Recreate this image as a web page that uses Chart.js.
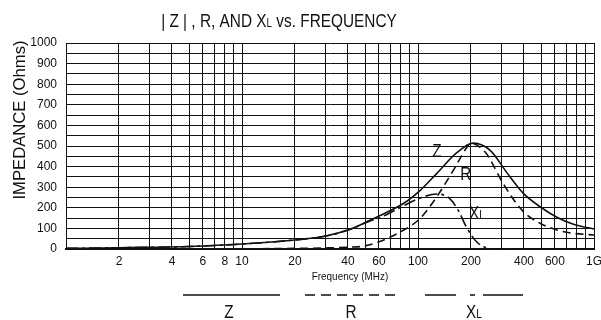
<!DOCTYPE html>
<html>
<head>
<meta charset="utf-8">
<script src="https://cdn.jsdelivr.net/npm/chart.js@4.4.1/dist/chart.umd.min.js"></script>
<style>
  html, body { margin: 0; padding: 0; background: #fff; }
</style>
</head>
<body>
<canvas id="chart" width="601" height="320"></canvas>
<script>
// frequency in MHz, impedance in ohms
const zFreq = [1, 2, 3, 5, 10, 20, 30, 41, 53, 60, 83, 103, 128, 165, 206, 258, 319, 397, 494, 615, 764, 1000];
const zVals = [3, 6, 8, 12, 24, 44, 63, 96, 138, 160, 222, 285, 367, 465, 514, 478, 372, 270, 205, 154, 120, 97];

const rFreq = [1, 10, 20, 30, 41, 50, 60, 83, 103, 128, 159, 188, 200, 244, 255, 304, 397, 494, 615, 764, 1000];
const rVals = [0, 1, 3, 5, 9, 15, 35, 92, 149, 254, 383, 489, 513, 465, 440, 319, 181, 125, 92, 76, 68];

const xlFreq = [1, 2, 3, 5, 10, 20, 30, 41, 53, 60, 83, 103, 128, 151, 169, 188, 215, 240, 270, 1000];
const xlVals = [3, 6, 8, 12, 24, 44, 63, 95, 135, 150, 210, 248, 267, 246, 189, 108, 35, 8, 0, 0];

const xGrid = [1, 2, 3, 4, 5, 6, 7, 8, 9, 10, 20, 30, 40, 50, 60, 70, 80, 90, 100,
  200, 300, 400, 500, 600, 700, 800, 900, 1000];
const xLabeled = [2, 4, 6, 8, 10, 20, 40, 60, 100, 200, 400, 600, 1000];
const xLabelText = ["2", "4", "6", "8", "10", "20", "40", "60", "100", "200", "400", "600", "1G"];

const ink = "#111";
const FONT = '"Liberation Sans", Arial, sans-serif';

function pts(fs, vs) {
  return fs.map((f, i) => ({ x: f, y: vs[i] }));
}

// text runs (small "L" subscript sits on the baseline), squeezed by k to look condensed
function drawRich(ctx, parts, cx, baseline, k = 0.85) {
  let w = 0;
  parts.forEach(([t, size]) => {
    ctx.font = `${size}px ${FONT}`;
    w += ctx.measureText(t).width;
  });
  ctx.save();
  ctx.translate(cx - (w * k) / 2, baseline);
  ctx.scale(k, 1);
  ctx.textAlign = "left";
  ctx.textBaseline = "alphabetic";
  let x = 0;
  parts.forEach(([t, size]) => {
    ctx.font = `${size}px ${FONT}`;
    ctx.fillText(t, x, 0);
    x += ctx.measureText(t).width;
  });
  ctx.restore();
}

const textPlugin = {
  id: "texts",
  afterDraw(chart) {
    const { ctx, scales } = chart;
    const sx = scales.x, sy = scales.y;
    ctx.save();
    ctx.fillStyle = ink;
    ctx.strokeStyle = ink;

    drawRich(ctx, [["| Z | , R, AND X", 19], ["L", 12], [" vs. FREQUENCY", 19]], 279, 27, 0.81);

    ctx.save();
    ctx.translate(25, 120);
    ctx.rotate(-Math.PI / 2);
    drawRich(ctx, [["IMPEDANCE (Ohms)", 17]], 0, 0, 0.98);
    ctx.restore();

    drawRich(ctx, [["Frequency (MHz)", 11]], 350, 280, 0.9);

    // curve names in the plot
    drawRich(ctx, [["Z", 18]], sx.getPixelForValue(128), sy.getPixelForValue(480) + 7);
    drawRich(ctx, [["R", 18]], sx.getPixelForValue(187), sy.getPixelForValue(369) + 7);
    drawRich(ctx, [["X", 18], ["L", 12]], sx.getPixelForValue(216), sy.getPixelForValue(180) + 7);

    // legend below the axis
    ctx.lineWidth = 1.6;
    ctx.beginPath();
    ctx.setLineDash([]);
    ctx.moveTo(183, 295); ctx.lineTo(280, 295);
    ctx.stroke();
    ctx.beginPath();
    ctx.setLineDash([10, 6]);
    ctx.moveTo(305, 295); ctx.lineTo(400, 295);
    ctx.stroke();
    ctx.beginPath();
    ctx.setLineDash([31, 14, 5, 8, 40]);
    ctx.moveTo(425, 295); ctx.lineTo(523, 295);
    ctx.stroke();
    ctx.setLineDash([]);

    drawRich(ctx, [["Z", 18]], 229, 318);
    drawRich(ctx, [["R", 18]], 351, 318);
    drawRich(ctx, [["X", 18], ["L", 12]], 474, 318);
    ctx.restore();
  },
};

const lineStyle = {
  borderColor: ink,
  borderWidth: 1.6,
  pointRadius: 0,
  fill: false,
  cubicInterpolationMode: "monotone",
};

new Chart(document.getElementById("chart"), {
  type: "line",
  data: {
    datasets: [
      { label: "Z", data: pts(zFreq, zVals), ...lineStyle },
      { label: "R", data: pts(rFreq, rVals), ...lineStyle, borderDash: [8, 5] },
      { label: "XL", data: pts(xlFreq, xlVals), ...lineStyle, borderDash: [12, 4, 3, 4] },
    ],
  },
  options: {
    responsive: false,
    animation: false,
    layout: { padding: { left: 0, right: 7, top: 43, bottom: 0 } },
    plugins: { legend: { display: false }, tooltip: { enabled: false } },
    scales: {
      x: {
        type: "logarithmic",
        min: 1,
        max: 1000,
        afterBuildTicks: (s) => { s.ticks = xGrid.map((v) => ({ value: v })); },
        afterFit: (s) => { s.height = 71; s.paddingLeft = 0; s.paddingRight = 0; },
        ticks: {
          autoSkip: false,
          maxRotation: 0,
          padding: 5,
          color: ink,
          font: { family: FONT, size: 12 },
          callback: (v) => {
            const i = xLabeled.indexOf(v);
            return i < 0 ? "" : xLabelText[i];
          },
        },
        grid: { color: ink, lineWidth: 1, drawTicks: false },
        border: { color: ink, width: 2 },
      },
      y: {
        min: 0,
        max: 1000,
        afterFit: (s) => { s.width = 66; s.paddingTop = 0; s.paddingBottom = 0; },
        ticks: {
          stepSize: 50,
          maxTicksLimit: 30,
          autoSkip: false,
          padding: 9,
          color: ink,
          font: { family: FONT, size: 12 },
          callback: (v) => (v % 100 === 0 ? v : ""),
        },
        grid: { color: ink, lineWidth: 1, drawTicks: false },
        border: { color: ink, width: 1 },
      },
    },
  },
  plugins: [textPlugin],
});
</script>
</body>
</html>
